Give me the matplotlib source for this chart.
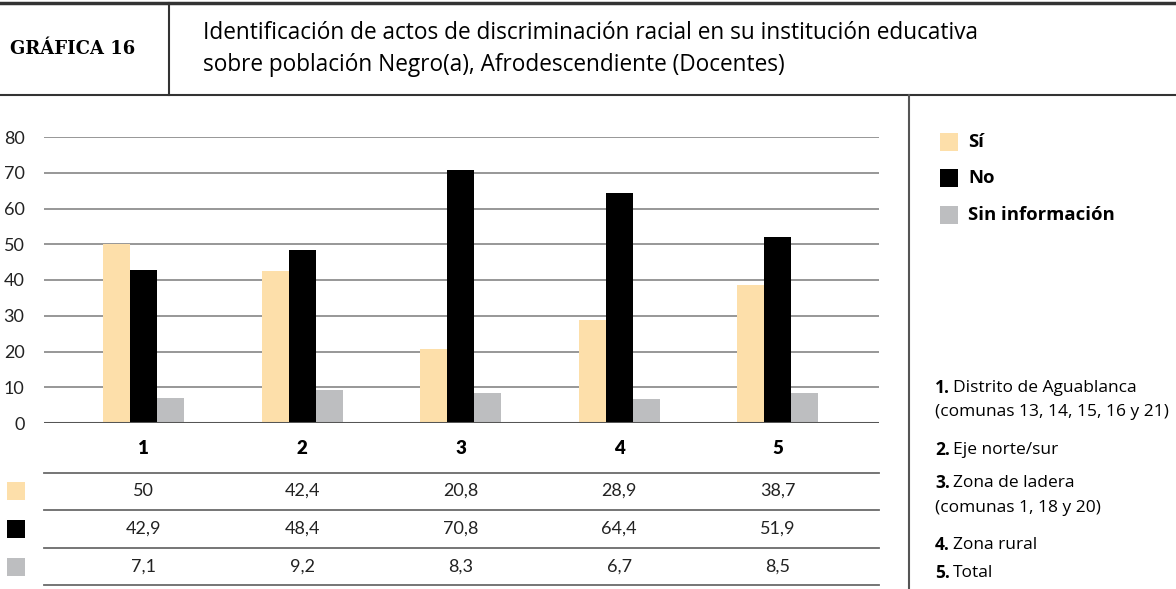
import matplotlib
matplotlib.use('Agg')
import matplotlib.pyplot as plt
from matplotlib.lines import Line2D
from matplotlib.patches import Rectangle
from matplotlib.transforms import blended_transform_factory
import numpy as np

# data
categories = ['1', '2', '3', '4', '5']
si = [50, 42.4, 20.8, 28.9, 38.7]
no = [42.9, 48.4, 70.8, 64.4, 51.9]
sin_info = [7.1, 9.2, 8.3, 6.7, 8.5]
series_names = ['Sí', 'No', 'Sin información']
series_colors = ['#FDDFAA', '#000000', '#BDBEC0']
yticks = [0, 10, 20, 30, 40, 50, 60, 70, 80]
zonas = [('1.', ['Distrito de Aguablanca', '(comunas 13, 14, 15, 16 y 21)']),
         ('2.', ['Eje norte/sur']),
         ('3.', ['Zona de ladera', '(comunas 1, 18 y 20)']),
         ('4.', ['Zona rural']),
         ('5.', ['Total'])]
titulo = ['Identificación de actos de discriminación racial en su institución educativa',
          'sobre población Negro(a), Afrodescendiente (Docentes)']

W, H = 1176, 589
def fx(px): return px / W
def fy(py): return 1 - py / H

txt_font = 'Open Sans'
num_font = 'Lato'

fig = plt.figure(figsize=(W / 100, H / 100), dpi=100)
fig.patch.set_facecolor('white')

# main bar axes
ax = fig.add_axes([fx(44), fy(423), fx(879) - fx(44), fy(137) - fy(423)])
x = np.arange(len(categories))
bw = 0.17
all_series = [si, no, sin_info]
for k, vals in enumerate(all_series):
    ax.bar(x + (k - 1) * bw, vals, width=bw, color=series_colors[k], zorder=3, linewidth=0)
ax.set_xlim(-0.63, 4.64)
ax.set_ylim(0, 80)
ax.set_yticks(yticks)
ax.set_yticklabels([str(t) for t in yticks], fontfamily=num_font, fontsize=13, color='#222222')
ax.tick_params(axis='y', length=0, pad=14)
ax.set_xticks([])
for s in ax.spines.values():
    s.set_visible(False)
for t in yticks:
    if t == 0:
        ax.axhline(t, color='#555555', lw=2.2, zorder=4)
    else:
        ax.axhline(t, color='#8f8f8f', lw=1.3, zorder=1)

# table under the chart
tr = blended_transform_factory(ax.transData, fig.transFigure)
tra = blended_transform_factory(ax.transAxes, fig.transFigure)
for i, c in enumerate(categories):
    fig.text(x[i], fy(449), c, transform=tr, ha='center', va='center',
             fontfamily=num_font, fontweight='heavy', fontsize=13.5)
for yl in [472.5, 510, 547.5, 585]:
    fig.add_artist(Line2D([0, 1], [fy(yl), fy(yl)], transform=tra, color='#6a6a6a', lw=1.3))
row_y = [491, 529, 567]
for k, vals in enumerate(all_series):
    fig.add_artist(Rectangle((fx(7), fy(row_y[k] + 9)), fx(18), fy(0) - fy(18),
                             transform=fig.transFigure, color=series_colors[k], lw=0))
    for i, v in enumerate(vals):
        lab = ('%g' % v).replace('.', ',')
        fig.text(x[i], fy(row_y[k]), lab, transform=tr, ha='center', va='center',
                 fontfamily=num_font, fontsize=13, color='#222222')

# header
fig.add_artist(Line2D([0, 1], [fy(3), fy(3)], transform=fig.transFigure, color='#333333', lw=2.5))
fig.add_artist(Line2D([0, 1], [fy(95), fy(95)], transform=fig.transFigure, color='#333333', lw=1.5))
fig.add_artist(Line2D([fx(169), fx(169)], [fy(3), fy(95)], transform=fig.transFigure, color='#333333', lw=1.5))
fig.add_artist(Line2D([fx(909), fx(909)], [fy(95), fy(589)], transform=fig.transFigure, color='#555555', lw=1.5))
fig.text(fx(10), fy(49), 'GRÁFICA 16', ha='left', va='center', fontfamily='DejaVu Serif',
         fontweight='bold', fontsize=13)
fig.text(fx(203), fy(33), titulo[0], ha='left', va='center', fontfamily=txt_font, fontsize=16.3)
fig.text(fx(203), fy(65), titulo[1], ha='left', va='center', fontfamily=txt_font, fontsize=16.3)

# series legend
leg_y = [142, 178, 215]
for k, name in enumerate(series_names):
    fig.add_artist(Rectangle((fx(940), fy(leg_y[k] + 9)), fx(18), fy(0) - fy(18),
                             transform=fig.transFigure, color=series_colors[k], lw=0))
    fig.text(fx(968), fy(leg_y[k]), name, ha='left', va='center', fontfamily=txt_font,
             fontweight='bold', fontsize=13.3)

# zone legend
renderer = fig.canvas.get_renderer()
zona_y = [[388, 412], [450], [483, 508], [545], [573]]
for (num, lines), ys in zip(zonas, zona_y):
    t = fig.text(fx(935), fy(ys[0]), num, ha='left', va='center', fontfamily=txt_font,
                 fontweight='bold', fontsize=12.5)
    wpx = t.get_window_extent(renderer).width
    fig.text(fx(935 + wpx + 3), fy(ys[0]), lines[0], ha='left', va='center',
             fontfamily=txt_font, fontsize=12.5)
    for ln, yy in zip(lines[1:], ys[1:]):
        fig.text(fx(935), fy(yy), ln, ha='left', va='center', fontfamily=txt_font, fontsize=12.5)

fig.savefig('out.png', dpi=100)
